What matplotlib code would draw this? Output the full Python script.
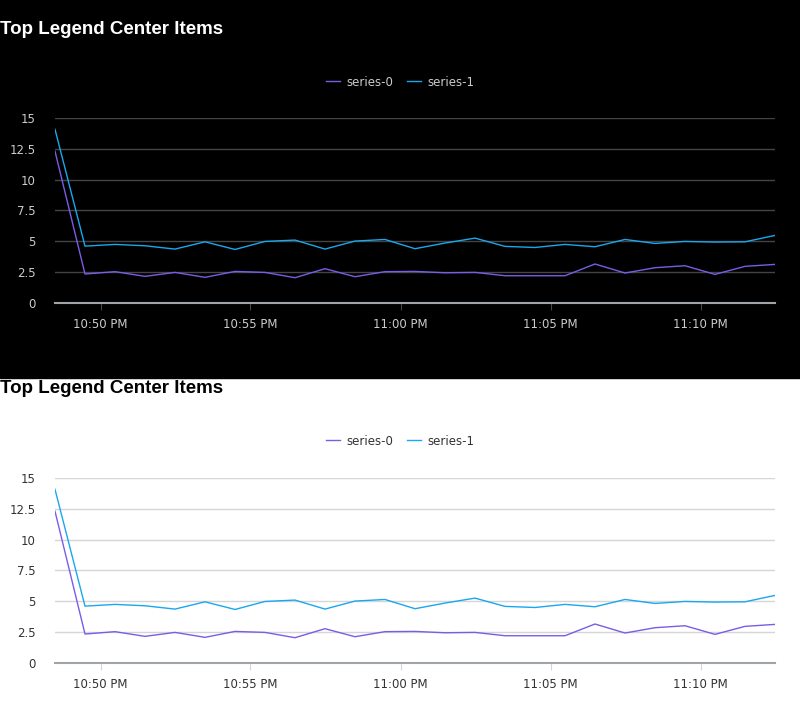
import matplotlib.pyplot as plt
import matplotlib.dates as mdates
from datetime import datetime, timedelta


def plot_legend_panels():
    start = datetime(2024, 1, 1, 22, 48, 29)
    times = [start + timedelta(minutes=i) for i in range(25)]

    series_0 = [12.30, 2.35, 2.54, 2.16, 2.48, 2.08, 2.56, 2.48, 2.05, 2.78, 2.13, 2.54, 2.56,
                2.45, 2.48, 2.21, 2.21, 2.21, 3.16, 2.43, 2.86, 3.02, 2.32, 2.97, 3.13]
    series_1 = [14.08, 4.61, 4.75, 4.64, 4.37, 4.96, 4.34, 4.99, 5.10, 4.37, 5.02, 5.15, 4.40,
                4.86, 5.26, 4.59, 4.50, 4.75, 4.56, 5.15, 4.83, 4.99, 4.94, 4.96, 5.48]

    fig = plt.figure(figsize=(8, 7.19), dpi=100)
    fig.patch.set_facecolor('white')

    # dark background for the upper half
    fig.patches.append(plt.Rectangle((0, 341 / 719), 1, 378 / 719, transform=fig.transFigure,
                                     color='black', zorder=-10))

    panels = [
        (0.5786, 'black', 'white', '#444444', '#cccccc', 1 - 30 / 719, 1 - 82 / 719),
        (0.0779, 'white', 'black', '#d6d6d6', '#333333', 1 - 389 / 719, 1 - 441 / 719),
    ]

    for bottom, bg, title_color, grid_color, tick_color, title_y, legend_y in panels:
        ax = fig.add_axes([55 / 800, bottom, 720 / 800, 185 / 719])
        ax.set_facecolor(bg)
        ax.plot(times, series_0, color='#7b5ce6', linewidth=1, label='series-0')
        ax.plot(times, series_1, color='#1aa7ee', linewidth=1, label='series-1')

        ax.set_xlim(times[0], times[-1])
        ax.set_ylim(0, 15)
        ax.set_yticks([0, 2.5, 5, 7.5, 10, 12.5, 15])
        ax.set_yticklabels(['0', '2.5', '5', '7.5', '10', '12.5', '15'])
        ax.xaxis.set_major_locator(mdates.MinuteLocator(byminute=range(0, 60, 5)))
        ax.xaxis.set_major_formatter(mdates.DateFormatter('%-I:%M %p'))
        ax.grid(axis='y', color=grid_color, linewidth=1)
        ax.set_axisbelow(True)

        for side in ['top', 'right', 'left']:
            ax.spines[side].set_visible(False)
        ax.spines['bottom'].set_color('#a0a4a8')
        ax.spines['bottom'].set_linewidth(1.5)
        ax.tick_params(axis='y', length=0, pad=14, labelsize=8.5, labelcolor=tick_color)
        ax.tick_params(axis='x', length=5, color=grid_color, pad=6, labelsize=8.5, labelcolor=tick_color)

        fig.text(0.0, title_y, 'Top Legend Center Items', color=title_color, fontsize=13.5,
                 fontweight='bold', family='Liberation Sans', va='center', ha='left')
        leg = fig.legend(*ax.get_legend_handles_labels(), loc='center', bbox_to_anchor=(0.5, legend_y),
                         ncol=2, frameon=False, fontsize=8.5, handlelength=1.2, columnspacing=1.2,
                         handletextpad=0.5)
        for text in leg.get_texts():
            text.set_color(tick_color)

    plt.savefig('out.png', dpi=100, facecolor=fig.get_facecolor())


if __name__ == "__main__":
    plot_legend_panels()
